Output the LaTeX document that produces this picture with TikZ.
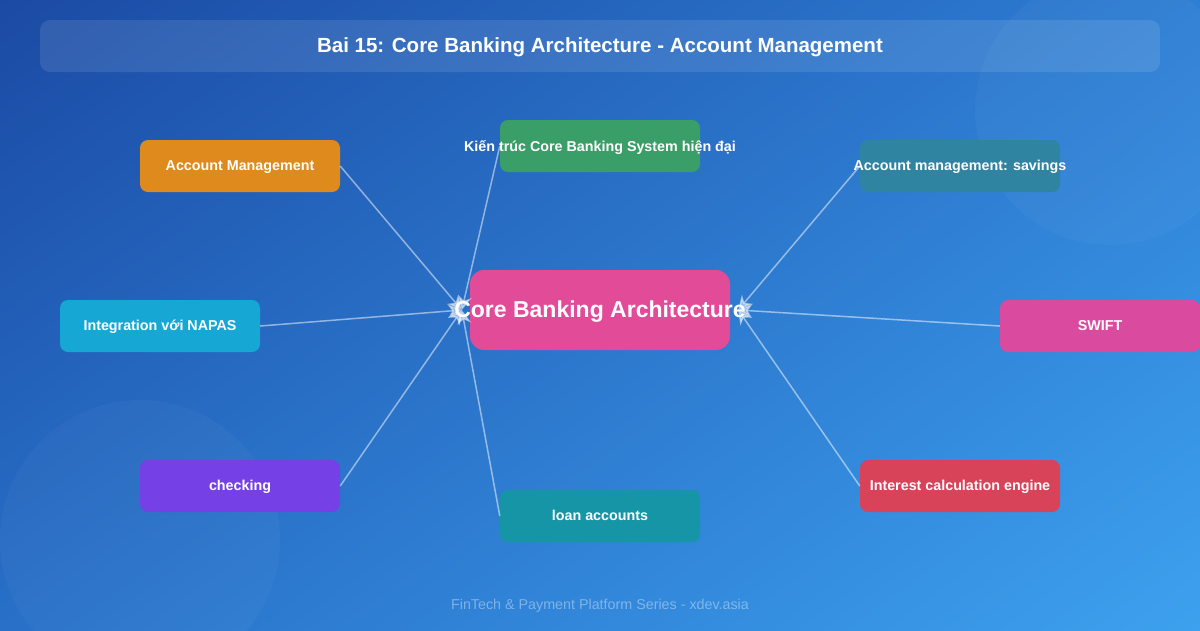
\documentclass[tikz,border=0pt]{standalone}
\usepackage{fontspec}
\setmainfont{Liberation Sans}
\usetikzlibrary{arrows.meta, positioning, shadings}

\definecolor{bgtl}{HTML}{1B4AA4}
\definecolor{bgtr}{HTML}{2E7ED4}
\definecolor{bgbl}{HTML}{2870C8}
\definecolor{bgbr}{HTML}{3DA1EE}
\definecolor{corepink}{HTML}{E14B98}
\definecolor{archgreen}{HTML}{3A9E68}
\definecolor{acctorange}{HTML}{DF8A1C}
\definecolor{saveteal}{HTML}{2F84A2}
\definecolor{napascyan}{HTML}{16A7D5}
\definecolor{swiftpink}{HTML}{DA4A9F}
\definecolor{checkpurple}{HTML}{7541E6}
\definecolor{loanteal}{HTML}{1595A5}
\definecolor{interestred}{HTML}{D8435A}

\begin{document}
\begin{tikzpicture}[
  x=1pt, y=-1pt,
  >=Stealth,
  box/.style={rounded corners=8pt, minimum width=200pt, minimum height=52pt,
    inner xsep=-40pt, inner ysep=0pt, text depth=1pt,
    text=white, font=\bfseries\fontsize{14.3}{16}\selectfont},
  link/.style={draw=white, opacity=0.5, line width=1.5pt,
    -{Stealth[length=14pt, width=14pt]}},
  halo/.style={fill=white, fill opacity=0.03}
]

% BACKGROUND
\shade[upper left=bgtl, upper right=bgtr, lower left=bgbl, lower right=bgbr]
  (0,0) rectangle (1200,630);
\useasboundingbox (0,0) rectangle (1200,630);
\fill[halo] (1110,110) circle (135);
\fill[halo] (140,540) circle (140);

% TITLE
\node[rounded corners=10pt, fill=white, fill opacity=0.1, minimum width=1120pt, minimum height=52pt]
  (titlebar) at (600,46) {};
\node[text=white, font=\bfseries\fontsize{20.5}{22}\selectfont] (title) at (600,47)
  {Bai 15: Core Banking Architecture - Account Management};

% CENTER
\node[rounded corners=14pt, fill=corepink, minimum width=260pt, minimum height=80pt] (corebox) at (600,310) {};
\coordinate[left=8pt of corebox.west] (corein);
\coordinate[right=8pt of corebox.east] (coreout);

% BRANCHES
\node[box, fill=archgreen] (arch) at (600,146) {Kiến trúc Core Banking System hiện đại};
\node[box, fill=acctorange] (acct) at (240,166) {Account Management};
\node[box, fill=saveteal] (savings) at (960,166) {Account management: savings};
\node[box, fill=napascyan] (napas) at (160,326) {Integration với NAPAS};
\node[box, fill=swiftpink] (swift) at (1100,326) {SWIFT};
\node[box, fill=checkpurple] (checking) at (240,486) {checking};
\node[box, fill=loanteal] (loan) at (600,516) {loan accounts};
\node[box, fill=interestred] (interest) at (960,486) {Interest calculation engine};

% LINKS
\draw[link] (acct.east) -- (corein);
\draw[link] (arch.west) -- (corein);
\draw[link] (napas.east) -- (corein);
\draw[link] (checking.east) -- (corein);
\draw[link] (loan.west) -- (corein);
\draw[link] (savings.west) -- (coreout);
\draw[link] (swift.west) -- (coreout);
\draw[link] (interest.west) -- (coreout);

% CENTER TEXT
\node[text=white, font=\bfseries\fontsize{23}{25}\selectfont] (core) at (600,312) {Core Banking Architecture};

% FOOTER
\node[text=white, text opacity=0.38, font=\fontsize{14.3}{16}\selectfont] (footer) at (600,606)
  {FinTech \& Payment Platform Series - xdev.asia};

\end{tikzpicture}
\end{document}
